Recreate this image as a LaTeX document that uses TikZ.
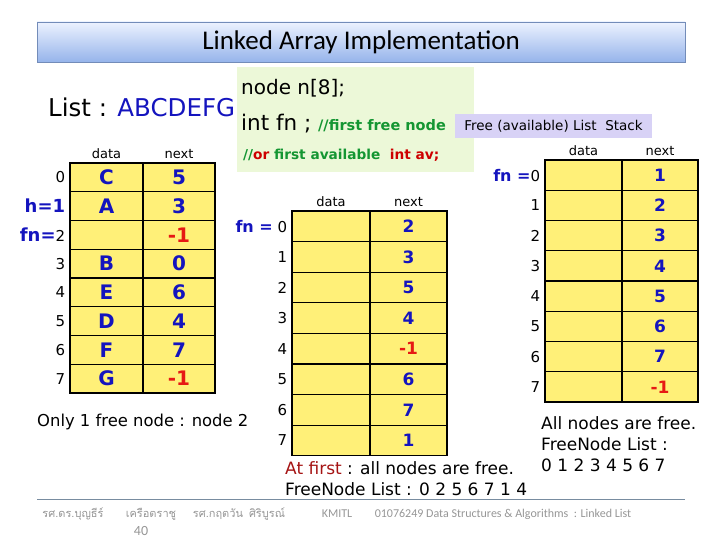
\documentclass[tikz,border=0pt]{standalone}
\usepackage{fontspec}
\setmainfont{DejaVu Sans}
\newfontfamily\titlefont{Carlito}
\newfontfamily\thaifont[Script=Thai]{Loma}
\usetikzlibrary{positioning}
\definecolor{tblue}  {RGB}{ 20, 20,190}
\definecolor{tred}   {RGB}{230, 25, 20}
\definecolor{cgrn}   {RGB}{ 20,150, 50}
\definecolor{cred}   {RGB}{205,  0,  0}
\definecolor{dred}   {RGB}{165, 20, 20}
\definecolor{cellyel}{RGB}{255,240,120}
\definecolor{codebg} {RGB}{236,248,216}
\definecolor{tagbg}  {RGB}{216,210,246}
\definecolor{ttop}   {RGB}{236,242,255}
\definecolor{tbot}   {RGB}{150,180,235}
\definecolor{tbord}  {RGB}{115,140,185}
\definecolor{fgray}  {RGB}{150,150,150}
\definecolor{rulec}  {RGB}{120,140,160}
\tikzset{
  % yellow table cell
  cell/.style={rectangle,draw=black,fill=cellyel,line width=1.3pt,
               inner sep=0pt,font=\fontsize{20}{20}\selectfont\bfseries},
  LT/.style={cell,minimum width=73pt,minimum height=28.75pt},
  MT/.style={cell,minimum width=78pt,minimum height=30.6pt,
             font=\fontsize{17}{17}\selectfont\bfseries},
  RT/.style={cell,minimum width=77pt,minimum height=30.25pt,
             font=\fontsize{17}{17}\selectfont\bfseries},
  % column heads and row numbers
  hdr/.style={font=\fontsize{13}{13}\selectfont,inner sep=0pt},
  idx/.style={font=\fontsize{15}{15}\selectfont,inner sep=0pt},
  % plain texts
  txt/.style={anchor=west,inner sep=0pt,font=\fontsize{#1}{#1}\selectfont},
  txt/.default=16.4,
  foot/.style={inner sep=0pt,text=fgray,font=\titlefont\fontsize{12}{12}\selectfont},
  thfoot/.style={foot,font=\thaifont\fontsize{11}{11}\selectfont},
}
\begin{document}
\begin{tikzpicture}[x=1pt,y=-1pt]
  \useasboundingbox (0,0) rectangle (720,540);
  % Title bar
  \node[rectangle,draw=tbord,line width=0.8pt,top color=ttop,bottom color=tbot,
        minimum width=648pt,minimum height=40pt,
        font=\titlefont\fontsize{27}{27}\selectfont] (title) at (361,42)
        {Linked Array Implementation};
  % Code box
  \node[rectangle,fill=codebg,minimum width=237pt,minimum height=105pt] (code) at (355.5,119.5) {};
  \node[txt=20] (decl) at (241,88) {node n[8];};
  \node[txt=21.5] (fnv) at (241,124)
       {int fn ; {\fontsize{14.5}{14.5}\selectfont\bfseries\textcolor{cgrn}{//first free node}}};
  \node[txt=13.7,font=\fontsize{13.7}{13.7}\selectfont\bfseries] (avv) at (243,155)
       {\textcolor{cgrn}{//}\textcolor{cred}{or} \textcolor{cgrn}{first available}\ \ \textcolor{cred}{int av;}};
  \node[rectangle,fill=tagbg,minimum width=197pt,minimum height=24pt,
        font=\fontsize{13.5}{13.5}\selectfont] (tag) at (553.5,126) {Free (available) List\ \ Stack};
  \node[txt=24.5] (list) at (48,107) {List : \textcolor{tblue}{ABCDEFG}};
  % Left table
  \foreach \i/\d/\n/\c in {0/C/5/tblue,1/A/3/tblue,2/{}/-1/tred,3/B/0/tblue,
                           4/E/6/tblue,5/D/4/tblue,6/F/7/tblue,7/G/-1/tred}{
    \node[LT,text=tblue] (ld\i) at (106.5,{163+28.75*(\i+0.5)}) {\d};
    \node[LT,minimum width=72pt,text=\c] (ln\i) at (179,{163+28.75*(\i+0.5)}) {\n};
  }
  \node[hdr,above=3pt of ld0] (ldh) {data};
  \node[hdr,above=3pt of ln0] (lnh) {next};
  \foreach \i/\t in {0/0,1/{\textcolor{tblue}{\bfseries\fontsize{18}{18}\selectfont h=1}},
                     2/{\textcolor{tblue}{\bfseries\fontsize{18}{18}\selectfont fn=}2},
                     3/3,4/4,5/5,6/6,7/7}{
    \node[idx,left=4pt of ld\i] (li\i) {\t};
  }
  \node[txt] (only) at (37,422) {Only 1 free node : node 2};
  % Middle table
  \foreach \i/\n/\c in {0/2/tblue,1/3/tblue,2/5/tblue,3/4/tblue,
                        4/-1/tred,5/6/tblue,6/7/tblue,7/1/tblue}{
    \node[MT] (md\i) at (331,{211+30.6*(\i+0.5)}) {};
    \node[MT,minimum width=77pt,text=\c] (mn\i) at (408.5,{211+30.6*(\i+0.5)}) {\n};
  }
  \node[hdr,above=3pt of md0] (mdh) {data};
  \node[hdr,above=3pt of mn0] (mnh) {next};
  \foreach \i/\t in {0/{\textcolor{tblue}{\bfseries\fontsize{16}{16}\selectfont fn =}\ 0},
                     1/1,2/2,3/3,4/4,5/5,6/6,7/7}{
    \node[idx,left=4pt of md\i] (mi\i) {\t};
  }
  \node[txt=17] (first) at (285,468) {\textcolor{dred}{At first} : all nodes are free.};
  \node[txt=17] (fnl) at (285,489) {FreeNode List : 0 2 5 6 7 1 4};
  % Right table
  \foreach \i/\n/\c in {0/1/tblue,1/2/tblue,2/3/tblue,3/4/tblue,
                        4/5/tblue,5/6/tblue,6/7/tblue,7/-1/tred}{
    \node[RT] (rd\i) at (583.5,{160+30.25*(\i+0.5)}) {};
    \node[RT,minimum width=76pt,text=\c] (rn\i) at (660,{160+30.25*(\i+0.5)}) {\n};
  }
  \node[hdr,above=3pt of rd0] (rdh) {data};
  \node[hdr,above=3pt of rn0] (rnh) {next};
  \foreach \i/\t in {0/{\textcolor{tblue}{\bfseries\fontsize{16}{16}\selectfont fn =}0},
                     1/1,2/2,3/3,4/4,5/5,6/6,7/7}{
    \node[idx,left=4pt of rd\i] (ri\i) {\t};
  }
  \node[txt=17] (allf) at (541,423) {All nodes are free.};
  \node[txt=17] (fnr) at (541,444) {FreeNode List :};
  \node[txt=17] (seq) at (541,465) {0 1 2 3 4 5 6 7};
  % Footer
  \coordinate (fl) at (37,499);
  \coordinate (fr) at (685,499);
  \draw[rulec,line width=0.8pt] (fl) -- (fr);
  \node[thfoot] (au1) at (73,514) {รศ.ดร.บุญธีร์};
  \node[thfoot] (au2) at (151,514) {เครือตราชู};
  \node[thfoot] (au3) at (218,514) {รศ.กฤตวัน};
  \node[thfoot] (au4) at (267,514) {ศิริบูรณ์};
  \node[foot] (kmitl) at (337,514) {KMITL};
  \node[foot] (course) at (503,514) {01076249 Data Structures \& Algorithms\ \ : Linked List};
  \node[foot,font=\titlefont\fontsize{14}{14}\selectfont] (pg) at (141,531) {40};
\end{tikzpicture}
\end{document}
